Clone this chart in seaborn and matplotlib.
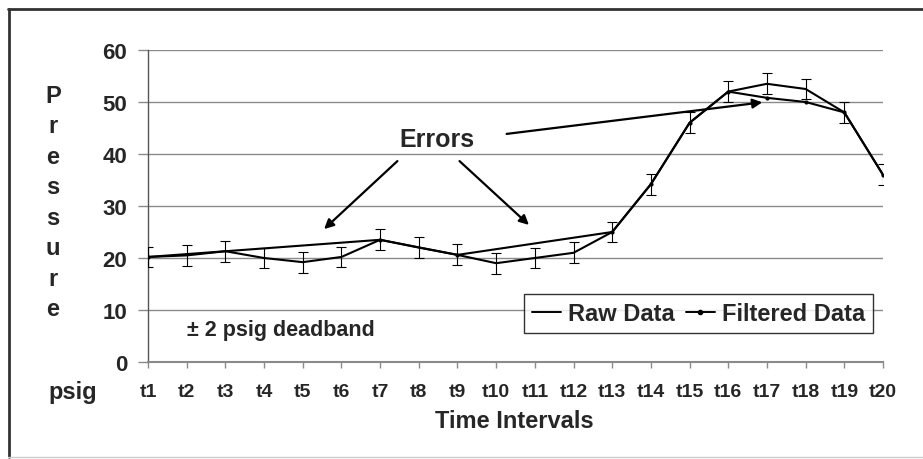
import matplotlib
matplotlib.use("Agg")
import matplotlib.pyplot as plt
import pandas as pd
import seaborn as sns
from matplotlib.lines import Line2D

# Данные
time_labels = [f"t{i}" for i in range(1, 21)]
raw_pressure = [20.2, 20.5, 21.3, 20.0, 19.2, 20.2, 23.5, 22.0, 20.6, 19.0,
                20.0, 21.0, 25.0, 34.2, 46.0, 52.0, 53.5, 52.5, 48.0, 36.0]
deadband = 2.0
filtered_idx = [1, 7, 9, 13, 14, 15, 16, 17, 18, 19, 20]
filtered_pressure = [20.2, 23.5, 20.6, 25.0, 34.2, 46.0, 52.0, 50.8, 50.0, 48.0, 36.0]
y_ticks = [0, 10, 20, 30, 40, 50, 60]

sns.set_style("white")
plt.rcParams["font.family"] = ["Liberation Sans", "DejaVu Sans"]
plt.rcParams["font.weight"] = "bold"

raw_df = pd.DataFrame({"t": range(1, 21), "pressure": raw_pressure})
filt_df = pd.DataFrame({"t": filtered_idx, "pressure": filtered_pressure})

fig = plt.figure(figsize=(9.23, 4.60), dpi=100)
ax = fig.add_axes([148 / 923, 1 - 363 / 460, (883 - 148) / 923, (363 - 51) / 460])

# Сетка
for y in y_ticks[1:]:
    ax.axhline(y, color="#8a8a8a", lw=1.0, zorder=0)

# Сырые данные с полосами нечувствительности
sns.lineplot(data=raw_df, x="t", y="pressure", ax=ax, color="black", lw=1.5,
             zorder=3, label="_nolegend_")
ax.errorbar(raw_df["t"], raw_df["pressure"], yerr=deadband, fmt="none",
            ecolor="black", elinewidth=0.8, capsize=3.5, capthick=0.8, zorder=3)

# Отфильтрованные данные
sns.lineplot(data=filt_df, x="t", y="pressure", ax=ax, color="black", lw=1.5,
             marker="o", markersize=3, markeredgewidth=0, zorder=4,
             label="_nolegend_")

ax.set_xlim(1, 20)
ax.set_ylim(0, 60)
ax.set_yticks(y_ticks)
ax.set_yticklabels([str(v) for v in y_ticks], fontsize=16, fontweight="bold")
ax.set_xticks(range(1, 21))
ax.set_xticklabels(time_labels, fontsize=14, fontweight="bold")
ax.tick_params(axis="y", length=7, width=1, color="#8a8a8a", pad=8, left=True)
ax.tick_params(axis="x", length=4, width=1, color="#8a8a8a", pad=11, bottom=True)
ax.set_xlabel("")
ax.set_ylabel("")

for side in ["top", "right"]:
    ax.spines[side].set_visible(False)
ax.spines["left"].set_color("#555555")
ax.spines["left"].set_linewidth(1.0)
ax.spines["bottom"].set_color("#8a8a8a")
ax.spines["bottom"].set_linewidth(1.5)

# Аннотации
ax.text(8.47, 42.9, "Errors", fontsize=18, fontweight="bold", ha="center", va="center")
arrow_kw = dict(arrowstyle="-|>", color="black", lw=1.6, mutation_scale=14)
ax.annotate("", xy=(5.5, 25.2), xytext=(7.5, 39.0), arrowprops=arrow_kw)
ax.annotate("", xy=(10.9, 26.0), xytext=(9.0, 39.0), arrowprops=arrow_kw)
ax.annotate("", xy=(16.95, 50.0), xytext=(10.2, 43.8), arrowprops=arrow_kw)

ax.text(2.0, 6.3, "± 2 psig deadband", fontsize=15.5, fontweight="bold", ha="left", va="center")

handles = [Line2D([], [], color="black", lw=1.4),
           Line2D([], [], color="black", lw=1.4, marker="o", markersize=3)]
leg = ax.legend(handles, ["Raw Data", "Filtered Data"], ncol=2, loc="lower right",
                bbox_to_anchor=(0.9864, 0.093), borderaxespad=0, frameon=True,
                fancybox=False, prop={"size": 17, "weight": "bold"}, handlelength=1.2,
                handletextpad=0.3, columnspacing=0.5, borderpad=0.34)
leg.get_frame().set_edgecolor("black")
leg.get_frame().set_linewidth(1.0)

# Подписи осей
fig.text(53 / 923, 1 - 203 / 460, "\n".join("Pressure"), fontsize=17, fontweight="bold",
         ha="center", va="center", linespacing=1.42)
fig.text(73 / 923, 1 - 393 / 460, "psig", fontsize=17, fontweight="bold", ha="center", va="center")
fig.text(514 / 923, 1 - 421 / 460, "Time Intervals", fontsize=17, fontweight="bold",
         ha="center", va="center")

# Рамка вокруг рисунка
fig.add_artist(Line2D([8 / 923, 1.0], [1 - 10 / 460, 1 - 10 / 460], color="#333333", lw=2))
fig.add_artist(Line2D([9 / 923, 9 / 923], [1 - 10 / 460, 1 - 458 / 460], color="#333333", lw=2))
fig.add_artist(Line2D([8 / 923, 1.0], [1 - 458 / 460, 1 - 458 / 460], color="#cccccc", lw=1))

fig.savefig("out.png", dpi=100)
plt.close(fig)
